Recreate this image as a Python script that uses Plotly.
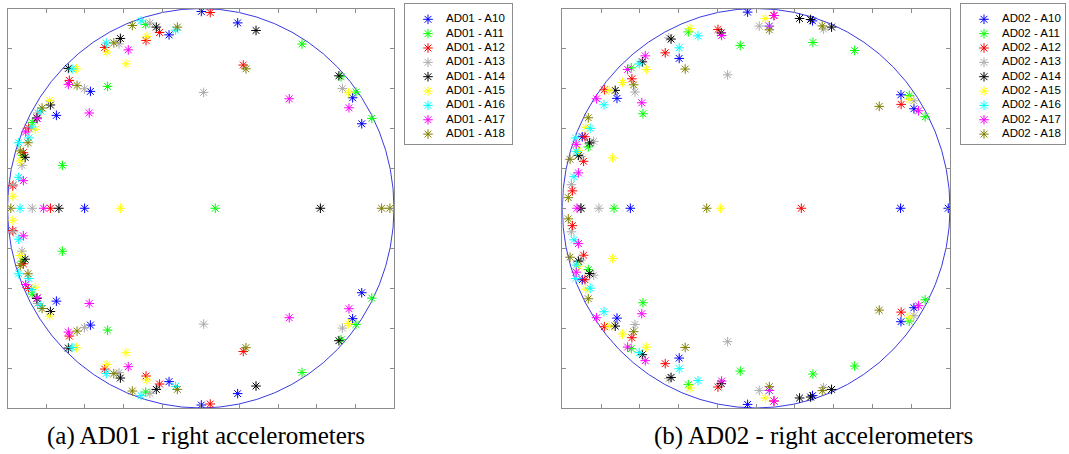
import plotly.graph_objects as go

# Pole locations in the z-plane (real, imag); only the upper half-plane and the
# real axis are listed, complex poles come in conjugate pairs.
channels = ["A10", "A11", "A12", "A13", "A14", "A15", "A16", "A17", "A18"]
colors = ["#0000ff", "#00ff00", "#ff0000", "#aaaaaa", "#000000",
          "#ffff00", "#00ffff", "#ff00ff", "#808000"]

ad01_a10 = [(-0.601, 0.0), (0.003, 0.985), (0.191, 0.928), (0.786, 0.553), (0.833, 0.423),
            (-0.164, 0.868), (-0.571, 0.585), (-0.747, 0.465)]
ad01_a11 = [(0.075, 0.0), (0.524, 0.822), (0.726, 0.658), (0.803, 0.582), (0.885, 0.450),
            (-0.285, 0.920), (-0.482, 0.610), (-0.872, 0.430), (-0.923, 0.265), (-0.716, 0.215)]
ad01_a12 = [(-0.778, 0.0), (0.049, 0.980), (0.220, 0.717), (-0.213, 0.880), (-0.283, 0.840),
            (-0.497, 0.805), (-0.680, 0.640), (-0.891, 0.402), (-0.918, 0.278), (-0.973, 0.112)]
ad01_a13 = [(-0.872, 0.0), (0.015, 0.580), (0.733, 0.600), (-0.263, 0.927), (-0.423, 0.823),
            (-0.602, 0.598), (-0.844, 0.477), (-0.925, 0.215), (-0.970, 0.118)]
ad01_a14 = [(-0.734, 0.0), (0.619, 0.0), (0.286, 0.890), (0.715, 0.663), (-0.230, 0.907),
            (-0.416, 0.850), (-0.685, 0.700), (-0.778, 0.517), (-0.909, 0.255), (-0.848, 0.452)]
ad01_a15 = [(-0.416, 0.0), (0.764, 0.578), (-0.278, 0.860), (-0.485, 0.782), (-0.387, 0.723),
            (-0.644, 0.698), (-0.782, 0.540), (-0.856, 0.395), (-0.935, 0.237), (-0.972, 0.060)]
ad01_a16 = [(-0.935, 0.0), (-0.309, 0.938), (-0.130, 0.892), (-0.489, 0.827), (-0.666, 0.697),
            (-0.827, 0.487), (-0.875, 0.407), (-0.889, 0.352), (-0.942, 0.328), (-0.942, 0.155)]
ad01_a17 = [(-0.813, 0.0), (0.458, 0.548), (0.767, 0.503), (-0.375, 0.793), (-0.685, 0.620),
            (-0.577, 0.477), (-0.846, 0.448), (-0.906, 0.382), (-0.918, 0.138)]
ad01_a18 = [(-0.983, 0.0), (0.936, 0.0), (0.979, 0.0), (0.234, 0.698), (-0.354, 0.915),
            (-0.121, 0.907), (-0.450, 0.828), (-0.640, 0.615), (-0.821, 0.502), (-0.894, 0.328),
            (-0.934, 0.287)]

ad02_a10 = [(-0.649, 0.0), (0.745, 0.0), (0.991, 0.0), (-0.044, 0.982), (0.291, 0.938),
            (-0.397, 0.750), (0.747, 0.568), (0.814, 0.498), (-0.718, 0.550), (-0.897, 0.358)]
ad02_a11 = [(-0.733, 0.0), (-0.082, 0.815), (0.293, 0.830), (0.508, 0.790), (-0.350, 0.883),
            (0.790, 0.565), (0.872, 0.458), (-0.644, 0.703), (-0.584, 0.473), (-0.866, 0.307)]
ad02_a12 = [(0.233, 0.0), (0.092, 0.965), (-0.197, 0.895), (-0.469, 0.778), (0.748, 0.520),
            (-0.641, 0.648), (-0.783, 0.593), (-0.883, 0.358), (-0.890, 0.235), (-0.948, 0.087)]
ad02_a13 = [(-0.811, 0.0), (-0.904, 0.0), (0.016, 0.912), (0.348, 0.897), (-0.450, 0.853),
            (-0.147, 0.668), (0.814, 0.538), (-0.625, 0.582), (-0.838, 0.335), (-0.904, 0.260),
            (-0.953, 0.118)]
ad02_a14 = [(-0.904, 0.0), (0.224, 0.950), (0.281, 0.945), (0.389, 0.907), (-0.180, 0.878),
            (-0.439, 0.847), (-0.587, 0.733), (-0.727, 0.590), (-0.859, 0.327), (-0.917, 0.265)]
ad02_a15 = [(-0.183, 0.0), (0.047, 0.950), (-0.341, 0.900), (0.790, 0.545), (-0.567, 0.695),
            (-0.689, 0.630), (-0.758, 0.590), (-0.879, 0.405), (-0.917, 0.290), (-0.740, 0.252)]
ad02_a16 = [(0.068, 0.912), (-0.300, 0.863), (-0.397, 0.803), (-0.603, 0.723), (-0.785, 0.518),
            (-0.856, 0.400), (-0.931, 0.352), (-0.928, 0.285), (-0.940, 0.158)]
ad02_a17 = [(-0.924, 0.0), (0.092, 0.965), (0.068, 0.912), (-0.178, 0.865), (0.838, 0.488),
            (-0.572, 0.763), (-0.663, 0.695), (-0.823, 0.548), (-0.590, 0.528), (-0.928, 0.320),
            (-0.917, 0.177)]
ad02_a18 = [(-0.255, 0.0), (0.068, 0.893), (0.341, 0.913), (-0.366, 0.697), (0.635, 0.510),
            (-0.632, 0.618), (-0.866, 0.453), (-0.960, 0.245), (-0.969, 0.053)]

panels = [
    ("AD01", [ad01_a10, ad01_a11, ad01_a12, ad01_a13, ad01_a14, ad01_a15, ad01_a16, ad01_a17, ad01_a18]),
    ("AD02", [ad02_a10, ad02_a11, ad02_a12, ad02_a13, ad02_a14, ad02_a15, ad02_a16, ad02_a17, ad02_a18]),
]
captions = ["(a) AD01 - right accelerometers", "(b) AD02 - right accelerometers"]

W, H = 1069, 454


def px_x(a, b):
    return [a / W, b / W]


def px_y(top, bottom):
    return [1 - bottom / H, 1 - top / H]


plot_x = [(7.5, 394.0), (562.3, 950.0)]
plot_y = (8.5, 408.0)
legend_box = [(405.0, 512.0), (961.0, 1065.0)]
legend_y = (4.0, 144.0)

fig = go.Figure()
layout = dict(
    width=W, height=H,
    margin=dict(l=0, r=0, t=0, b=0),
    paper_bgcolor="white", plot_bgcolor="white",
    showlegend=False,
    shapes=[], annotations=[],
    font=dict(family="Liberation Sans", color="black"),
)

axis_line = "#8c8c8c"
symbol = "asterisk-open"

for p, (tag, series) in enumerate(panels):
    xa, ya = f"x{2 * p + 1}", f"y{2 * p + 1}"
    lx, ly = f"x{2 * p + 2}", f"y{2 * p + 2}"
    xkey, ykey = f"xaxis{2 * p + 1}", f"yaxis{2 * p + 1}"
    lxkey, lykey = f"xaxis{2 * p + 2}", f"yaxis{2 * p + 2}"

    common = dict(range=[-1, 1], tick0=-1, dtick=0.2, ticks="inside", ticklen=4,
                  tickcolor=axis_line, showline=True, linecolor=axis_line, linewidth=1,
                  mirror="ticks", showticklabels=False, showgrid=False, zeroline=False,
                  fixedrange=True)
    layout[xkey] = dict(common, domain=px_x(*plot_x[p]), anchor=ya)
    layout[ykey] = dict(common, domain=px_y(*plot_y), anchor=xa)

    # unit circle
    layout["shapes"].append(dict(type="circle", xref=xa, yref=ya, x0=-1, y0=-1, x1=1, y1=1,
                                 line=dict(color="#3a3ae0", width=1), layer="below"))

    for name, pts, col in zip(channels, series, colors):
        xs, ys = [], []
        for re_, im_ in pts:
            xs.append(re_)
            ys.append(im_)
            if im_ != 0:
                xs.append(re_)
                ys.append(-im_)
        fig.add_trace(go.Scatter(
            x=xs, y=ys, mode="markers", name=f"{tag} - {name}", xaxis=xa, yaxis=ya,
            marker=dict(symbol=symbol, size=8, color=col, line=dict(color=col, width=1)),
            hoverinfo="x+y+name"))

    # legend panel
    bx0, bx1 = legend_box[p]
    layout[lxkey] = dict(domain=px_x(bx0, bx1), anchor=ly, range=[0, bx1 - bx0],
                         showline=True, linecolor=axis_line, linewidth=1, mirror=True,
                         ticks="", showticklabels=False, showgrid=False, zeroline=False,
                         fixedrange=True)
    layout[lykey] = dict(domain=px_y(*legend_y), anchor=lx,
                         range=[legend_y[1] - legend_y[0], 0],
                         showline=True, linecolor=axis_line, linewidth=1, mirror=True,
                         ticks="", showticklabels=False, showgrid=False, zeroline=False,
                         fixedrange=True)
    row_y = [15.3 + 14.35 * i for i in range(len(channels))]
    for i, (name, col) in enumerate(zip(channels, colors)):
        fig.add_trace(go.Scatter(
            x=[23], y=[row_y[i]], mode="markers", xaxis=lx, yaxis=ly, hoverinfo="skip",
            marker=dict(symbol=symbol, size=8, color=col, line=dict(color=col, width=1))))
    fig.add_trace(go.Scatter(
        x=[41] * len(channels), y=row_y, mode="text", xaxis=lx, yaxis=ly, hoverinfo="skip",
        text=[f"{tag} - {n}" for n in channels], textposition="middle right",
        textfont=dict(family="Liberation Sans", size=11.5, color="black")))

    layout["annotations"].append(dict(
        text=captions[p], xref="paper", yref="paper",
        x=[206, 813][p] / W, y=1 - 436 / H, xanchor="center", yanchor="middle",
        showarrow=False, font=dict(family="Liberation Serif", size=25, color="black")))

fig.update_layout(**layout)
fig.write_html("out.html")
